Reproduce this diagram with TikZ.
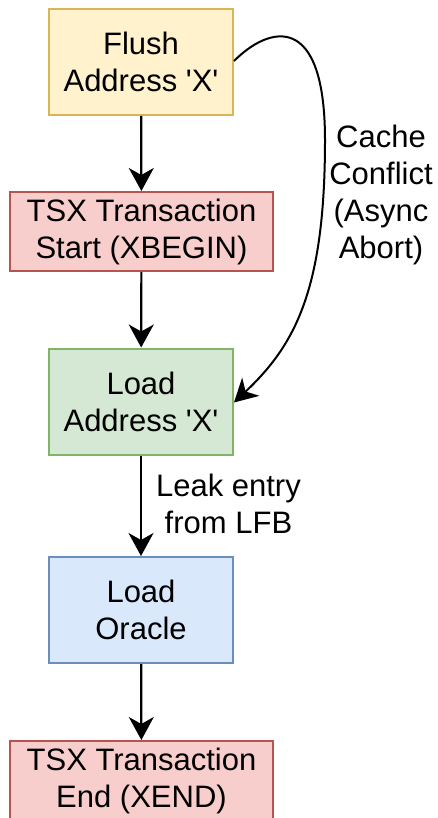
\documentclass[tikz,border=0pt]{standalone}
\usepackage{fontspec}
\setmainfont{Liberation Sans}
\usetikzlibrary{arrows.meta}

\definecolor{yfill}{HTML}{FFF2CC}\definecolor{ydraw}{HTML}{D6B656}
\definecolor{rfill}{HTML}{F8CECC}\definecolor{rdraw}{HTML}{B85450}
\definecolor{gfill}{HTML}{D5E8D4}\definecolor{gdraw}{HTML}{82B366}
\definecolor{bfill}{HTML}{DAE8FC}\definecolor{bdraw}{HTML}{6C8EBF}

\tikzset{
  stepbox/.style={draw, line width=2pt, align=center, inner sep=0pt,
    font=\fontsize{31}{37}\selectfont},
  narrowbox/.style={stepbox, minimum width=184pt, minimum height=106pt},
  widebox/.style={stepbox, minimum width=263pt, minimum height=79pt},
  flow/.style={line width=2.2pt, -{Stealth[length=23pt, width=25pt, inset=7pt]}},
  note/.style={align=center, inner sep=0pt, font=\fontsize{31}{37}\selectfont},
}

\begin{document}
\begin{tikzpicture}[x=1pt, y=-1pt]
  \useasboundingbox (0,0) rectangle (437,818);

  % process steps
  \node[narrowbox, fill=yfill, draw=ydraw] (flush)  at (141,62)    {Flush\\Address \textquotesingle X\textquotesingle};
  \node[widebox,   fill=rfill, draw=rdraw] (xbegin) at (141.5,231.5) {TSX Transaction\\Start (XBEGIN)};
  \node[narrowbox, fill=gfill, draw=gdraw] (load)   at (141,401.5) {Load\\Address \textquotesingle X\textquotesingle};
  \node[narrowbox, fill=bfill, draw=bdraw] (oracle) at (141,610)   {Load\\Oracle};
  \node[widebox,   fill=rfill, draw=rdraw] (xend)   at (141.5,780.5) {TSX Transaction\\End (XEND)};

  % straight flow
  \draw[flow] (flush)  -- (xbegin);
  \draw[flow] (xbegin) -- (load);
  \draw[flow] (load)   -- (oracle) node[note, midway, anchor=west, xshift=14pt, yshift=2pt] (leak) {Leak entry\\from LFB};
  \draw[flow] (oracle) -- (xend);

  % asynchronous abort path
  \draw[flow, line width=2pt] ([yshift=1pt]flush.east)
      .. controls (270,25) and (325,12) .. (325,140)
      .. controls (325,290) and (295,345) .. ([yshift=-1pt]load.east);
  \node[note] (conflict) at (381,195) {Cache\\Conflict\\(Async\\Abort)};
\end{tikzpicture}
\end{document}
